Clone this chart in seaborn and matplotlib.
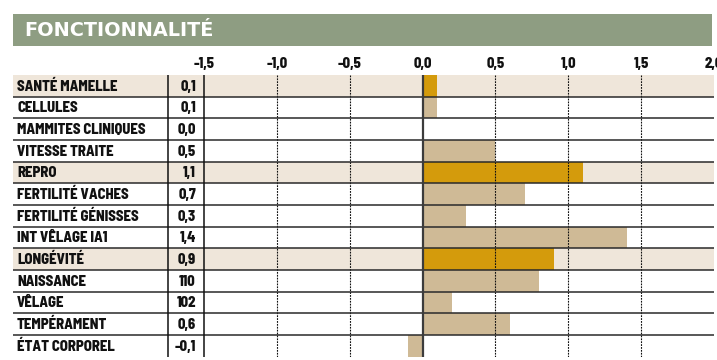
import matplotlib
matplotlib.use("Agg")
import matplotlib.pyplot as plt
from matplotlib.patches import Rectangle
import pandas as pd
import seaborn as sns

# ---- data -------------------------------------------------------------
traits = ["SANTÉ MAMELLE", "CELLULES", "MAMMITES CLINIQUES", "VITESSE TRAITE",
          "REPRO", "FERTILITÉ VACHES", "FERTILITÉ GÉNISSES", "INT VÊLAGE IA1",
          "LONGÉVITÉ", "NAISSANCE", "VÊLAGE", "TEMPÉRAMENT", "ÉTAT CORPOREL"]
value_text = ["0,1", "0,1", "0,0", "0,5", "1,1", "0,7", "0,3", "1,4",
              "0,9", "110", "102", "0,6", "-0,1"]
bar_values = [0.1, 0.1, 0.0, 0.5, 1.1, 0.7, 0.3, 1.4, 0.9, 0.8, 0.2, 0.6, -0.1]
is_group = [True, False, False, False, True, False, False, False,
            True, False, False, False, False]
x_ticks = [-1.5, -1.0, -0.5, 0.0, 0.5, 1.0, 1.5, 2.0]
x_tick_labels = ["-1,5", "-1,0", "-0,5", "0,0", "0,5", "1,0", "1,5", "2,0"]
title = "FONCTIONNALITÉ"

# ---- style ------------------------------------------------------------
sns.set_style("white")
FONT = ["Barlow Semi Condensed", "DejaVu Sans"]
TITLE_FONT = ["DejaVu Sans"]
plt.rcParams["font.family"] = FONT

GREEN = "#8e9d82"
BAND = "#efe6da"
GOLD = "#d49b0c"
TAN = "#cfba96"
INK = "#111111"
WEIGHT = 800

W, H = 717, 360
fig = plt.figure(figsize=(W / 100, H / 100), dpi=100)

# pixel helpers for layout
x0_px, x1_px = 13, 714            # table extent
tick_lo_px, tick_hi_px = 204, 714  # -1.5 .. 2.0
ppu = (tick_hi_px - tick_lo_px) / 3.5


def px(p):
    return -1.5 + (p - tick_lo_px) / ppu


top_px, bot_px = 75, 356.7
ax = fig.add_axes([x0_px / W, (H - bot_px) / H, (x1_px - x0_px) / W, (bot_px - top_px) / H])

df = pd.DataFrame({
    "trait": traits,
    "value": bar_values,
    "kind": ["group" if g else "detail" for g in is_group],
})

n = len(traits)
# highlighted rows
for i, g in enumerate(is_group):
    if g:
        ax.axhspan(i - 0.5, i + 0.5, color=BAND, lw=0, zorder=0)

sns.barplot(data=df, x="value", y="trait", hue="kind", order=traits,
            palette={"group": GOLD, "detail": TAN}, orient="h", width=1.0,
            dodge=False, legend=False, linewidth=0, saturation=1, ax=ax, zorder=2)

ax.set_xlim(px(x0_px), px(x1_px))
ax.set_ylim(n - 0.5, -0.5)
for s in ax.spines.values():
    s.set_visible(False)
ax.set_xlabel("")
ax.set_ylabel("")
ax.set_yticks([])

# row separators
for i in range(1, n):
    ax.axhline(i - 0.5, color="#2a2a2a", lw=1.1, zorder=4)

# grid
for v in [-1.0, -0.5, 0.5, 1.0, 1.5]:
    ax.axvline(v, color=INK, lw=0.8, ls=(0, (1.6, 1.0)), zorder=3)
ax.axvline(0.0, color="#3c3c3c", lw=1.6, zorder=5)
ax.axvline(-1.5, color=INK, lw=1.1, zorder=5)
ax.axvline(px(168), color=INK, lw=1.1, zorder=5)

# ticks on top
ax.xaxis.tick_top()
ax.set_xticks(x_ticks)
ax.set_xticklabels(x_tick_labels, fontsize=10.5, fontweight=WEIGHT, color=INK)
ax.tick_params(axis="x", length=0, pad=3)

# label and value columns
for i, (t, v, g) in enumerate(zip(traits, value_text, is_group)):
    ax.text(px(17), i + 0.04, t, ha="left", va="center", fontsize=10.5,
            fontweight=WEIGHT, color=INK, zorder=6)
    ax.text(px(196), i + 0.04, v, ha="right", va="center", fontsize=10.5,
            fontweight=WEIGHT, color=INK, zorder=6)

# title band
fig.patches.append(Rectangle((13 / W, (H - 46) / H), (712 - 13) / W, 32 / H,
                             transform=fig.transFigure, facecolor=GREEN,
                             edgecolor="none", zorder=0))
fig.text(24 / W, (H - 30) / H, title, ha="left", va="center", fontsize=13.9,
         fontweight="bold", color="white", family=TITLE_FONT)

fig.savefig("out.png", dpi=100)
